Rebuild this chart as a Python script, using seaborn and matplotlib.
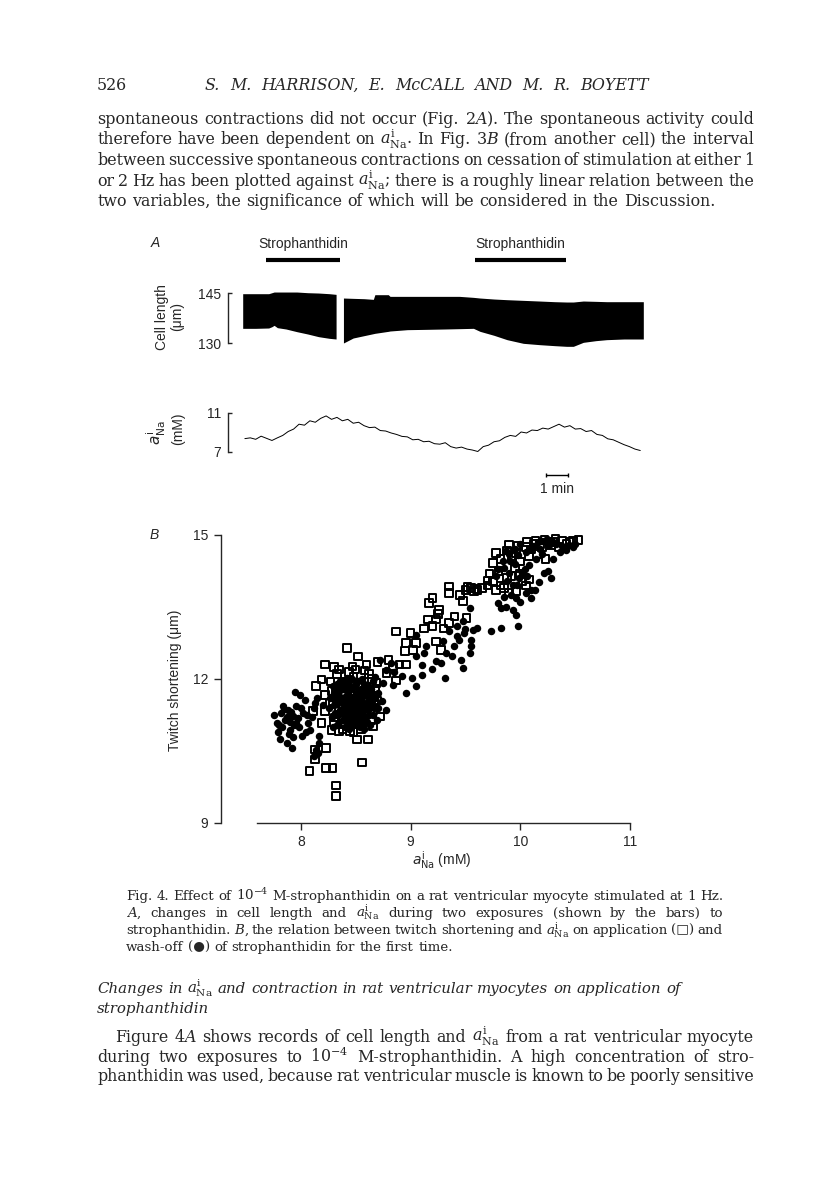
import numpy as np
import pandas as pd
import matplotlib
matplotlib.use("Agg")
import matplotlib.pyplot as plt
import seaborn as sns

# ---- DATA ----
# panel A, cell length band (time in min, um)
seg1_t = [0.0, 0.6, 1.2, 1.35, 1.45, 1.6, 2.0, 2.5, 3.0, 3.5, 4.0, 4.31]
seg1_top = [144.8, 144.8, 144.8, 145.1, 145.3, 145.3, 145.3, 145.3, 145.1, 145.0, 144.8, 144.6]
seg1_bot = [134.4, 134.4, 134.5, 134.9, 135.3, 134.6, 134.2, 133.4, 132.7, 131.9, 131.4, 131.2]

seg2_t = [4.65, 5.1, 5.6, 6.03, 6.1, 6.72, 6.8, 7.6, 8.5, 9.3, 10.0, 10.65, 10.95, 11.6, 12.2,
          12.95, 13.7, 14.4, 14.95, 15.26, 15.72, 16.3, 16.8, 17.6, 18.49]
seg2_top = [143.5, 143.4, 143.3, 143.1, 144.5, 144.5, 144.0, 144.0, 144.0, 144.0, 144.0, 143.7, 143.5,
            143.2, 143.0, 142.8, 142.6, 142.4, 142.3, 142.3, 142.6, 142.5, 142.4, 142.4, 142.4]
seg2_bot = [130.0, 131.5, 132.2, 132.8, 132.9, 133.5, 133.6, 134.0, 134.1, 134.2, 134.3, 134.4, 133.5,
            132.3, 131.0, 129.9, 129.5, 129.2, 129.0, 129.0, 130.2, 130.7, 131.0, 131.2, 131.2]

# panel A, intracellular Na activity (mM)
ana_t = [0.10, 0.35, 0.60, 0.85, 1.10, 1.35, 1.60, 1.85, 2.10, 2.35, 2.60, 2.85, 3.10, 3.35, 3.60,
         3.85, 4.10, 4.35, 4.60, 4.85, 5.10, 5.35, 5.60, 5.85, 6.10, 6.35, 6.60, 6.85, 7.10, 7.35,
         7.60, 7.85, 8.10, 8.35, 8.60, 8.85, 9.10, 9.35, 9.60, 9.85, 10.10, 10.35, 10.60, 10.85,
         11.10, 11.35, 11.60, 11.85, 12.10, 12.35, 12.60, 12.85, 13.10, 13.35, 13.60, 13.85, 14.10,
         14.35, 14.60, 14.85, 15.10, 15.35, 15.60, 15.85, 16.10, 16.35, 16.60, 16.85, 17.10, 17.35,
         17.60, 17.85, 18.10, 18.35]
ana_v = [8.37, 8.45, 8.30, 8.62, 8.40, 8.18, 8.45, 8.70, 9.10, 9.35, 9.85, 9.75, 10.20, 10.05, 10.45,
         10.70, 10.35, 10.55, 10.20, 10.35, 9.95, 10.05, 9.70, 9.50, 9.55, 9.20, 9.15, 8.95, 8.80, 8.60,
         8.55, 8.25, 8.30, 8.05, 8.10, 7.85, 7.80, 7.95, 7.55, 7.40, 7.50, 7.30, 7.20, 7.05,
         7.55, 7.70, 8.05, 8.15, 8.50, 8.70, 8.60, 9.05, 8.95, 9.25, 9.20, 9.45, 9.35,
         9.60, 9.85, 9.55, 9.70, 9.35, 9.40, 9.10, 9.20, 8.80, 8.70, 8.35, 8.25, 8.00,
         7.75, 7.55, 7.30, 7.15]

stroph_on = [1.08, 10.70]
stroph_off = [4.49, 14.90]

# panel B, application of strophanthidin (open squares)
app_x = [10.53, 10.45, 10.38, 10.32, 10.27, 10.22, 10.18, 10.12, 10.05, 9.98, 9.90, 10.23, 10.15, 10.08,
         9.78, 9.75, 9.72, 9.75, 9.82, 9.88, 9.95, 10.02, 10.08, 9.96, 10.05, 9.90, 9.85, 9.61, 9.50,
         9.52, 9.35, 9.35, 9.48, 9.51, 9.20, 9.17, 9.26, 9.23, 9.16, 9.35, 9.20, 9.30, 9.23, 9.28,
         8.87, 9.00, 8.96, 8.95, 9.02, 8.42, 8.52, 8.70, 8.22, 8.60, 8.47, 8.35, 8.30, 8.84, 8.96,
         8.78, 8.87, 8.19, 8.14, 8.22, 8.29, 8.11, 8.22, 8.19, 8.69, 8.67, 8.72, 8.66, 8.28, 8.35,
         8.45, 8.51, 8.61, 8.23, 8.13, 8.13, 8.08, 8.23, 8.29, 8.32, 8.32, 8.56,
         8.32, 8.40, 8.48, 8.55, 8.62, 8.58, 8.35, 8.42, 8.50, 8.60, 8.30, 8.38, 8.45, 8.52, 8.40,
         8.56, 8.63, 8.28, 9.60, 9.70, 9.80, 9.92, 10.00, 10.10, 10.28, 10.35,
         8.27, 8.33, 8.44, 8.50, 8.58, 8.65, 8.68, 8.70, 8.66, 8.64, 8.55, 8.48, 8.38, 8.31, 8.26,
         8.36, 8.46, 8.54, 8.42, 8.58,
         9.82, 9.88, 9.96, 10.06, 10.14, 10.20, 10.30, 10.42, 10.48, 9.70, 9.78, 9.92, 10.00,
         8.80, 8.90, 9.05, 9.12, 9.25, 9.40, 9.45, 9.55, 9.65, 9.58]
app_y = [14.90, 14.86, 14.88, 14.92, 14.85, 14.90, 14.80, 14.82, 14.75, 14.78, 14.80, 14.50, 14.60, 14.55,
         14.63, 14.42, 14.20, 14.03, 13.95, 14.10, 14.30, 14.03, 14.07, 13.83, 13.95, 13.80, 13.90, 13.86, 13.86,
         13.92, 13.93, 13.79, 13.62, 13.27, 13.69, 13.58, 13.44, 13.24, 13.24, 13.17, 13.10, 13.05, 12.78, 12.61,
         12.99, 12.96, 12.75, 12.58, 12.61, 12.65, 12.47, 12.35, 12.30, 12.30, 12.26, 12.20, 12.25, 12.26, 12.30,
         12.13, 11.97, 11.99, 11.85, 11.67, 11.53, 11.33, 11.33, 11.08, 11.92, 11.53, 11.22, 11.01, 10.94, 10.91,
         10.91, 10.74, 10.74, 10.56, 10.53, 10.32, 10.08, 10.15, 10.15, 9.78, 9.56, 10.26,
         11.80, 11.95, 12.05, 11.85, 12.10, 11.60, 11.40, 11.20, 11.45, 11.30, 11.10, 11.65, 11.75, 11.15, 11.05,
         11.05, 11.70, 11.75, 13.88, 13.95, 14.25, 14.55, 14.45, 14.70, 14.78, 14.75,
         11.95, 12.10, 12.15, 12.20, 12.18, 12.00, 11.80, 11.55, 11.35, 11.15, 10.95, 10.90, 10.95, 11.20, 11.50,
         11.85, 11.50, 11.30, 11.40, 11.75,
         14.50, 14.68, 14.62, 14.85, 14.88, 14.75, 14.85, 14.82, 14.88, 14.05, 13.85, 14.15, 14.20,
         12.40, 12.30, 12.75, 13.05, 13.35, 13.30, 13.75, 13.90, 13.90, 13.82]

# panel B, wash-off (filled circles)
wash_x = [7.76, 7.78, 7.81, 7.87, 7.92, 7.84, 7.88, 7.96, 7.95, 7.99, 8.04, 7.96, 7.90, 8.01, 8.07, 8.08,
          8.02, 7.87, 7.93, 7.83, 7.79, 8.17, 8.17, 8.14, 8.12, 8.13, 7.85, 7.90, 7.98, 8.05, 7.82, 7.93,
          8.10, 8.15, 8.20, 8.16, 8.12,
          8.28, 8.30, 8.32, 8.33, 8.35, 8.36, 8.37, 8.38, 8.40, 8.41, 8.42, 8.43, 8.44, 8.46, 8.47, 8.48,
          8.49, 8.50, 8.51, 8.52, 8.53, 8.55, 8.56, 8.57, 8.58, 8.60, 8.61, 8.62, 8.64, 8.66, 8.34, 8.39,
          8.45, 8.50, 8.54, 8.59, 8.63, 8.31, 8.37, 8.47, 8.26, 8.29, 8.44, 8.58, 8.68, 8.66, 8.70, 8.40,
          8.53, 8.46,
          8.27, 8.29, 8.31, 8.33, 8.35, 8.36, 8.38, 8.39, 8.41, 8.42, 8.43, 8.44, 8.45, 8.46, 8.47, 8.48,
          8.49, 8.50, 8.51, 8.52, 8.53, 8.54, 8.55, 8.56, 8.57, 8.58, 8.59, 8.60, 8.61, 8.62, 8.63, 8.65,
          8.67, 8.69, 8.33, 8.36, 8.40, 8.43, 8.49, 8.55, 8.60, 8.64, 8.38, 8.46, 8.52, 8.58, 8.30, 8.34,
          8.42, 8.56,
          8.78, 8.75, 8.82, 8.84, 8.96, 9.05, 9.10, 9.10, 9.05, 9.05, 9.14, 9.01, 8.92, 9.23, 9.31, 9.28,
          9.32, 9.38, 9.40, 9.44, 9.46, 9.48, 9.49, 9.54, 9.55, 9.55, 9.57, 9.61, 9.54, 9.73, 9.82, 9.98,
          9.96, 9.93, 9.87, 9.82, 9.80, 9.96, 10.10, 10.10, 10.13, 10.17, 10.22, 10.28, 10.25, 10.30, 10.36,
          10.42, 10.48, 10.02, 10.08, 9.85, 9.91, 9.87, 9.98, 10.10, 10.16, 10.24, 10.30, 9.99, 9.93, 9.90,
          8.72, 8.78, 8.85, 8.70, 8.74, 8.68, 9.35, 9.42, 9.30, 9.12, 9.20, 9.48, 9.42, 9.50,
          9.95, 10.00, 10.05, 10.12, 10.18, 10.20, 10.26, 10.33, 10.38, 10.44, 10.50, 10.14, 10.20, 9.90,
          9.84, 9.80, 9.95, 10.04, 9.88, 9.97, 10.06, 9.78, 9.92, 10.00, 9.85, 10.05,
          7.86, 7.91, 7.97, 7.80, 7.89, 7.94, 8.00, 8.06, 8.41, 8.48, 8.54, 8.35, 8.44, 8.51, 8.57, 8.39]
wash_y = [11.26, 11.08, 10.74, 10.67, 10.56, 11.43, 11.36, 11.43, 11.72, 11.67, 11.57, 11.08, 10.94, 10.81,
          11.08, 10.94, 11.29, 11.20, 11.22, 11.00, 10.90, 10.81, 10.67, 10.53, 11.40, 11.50, 11.38, 11.10,
          11.00, 10.90, 11.30, 10.80, 11.20, 11.60, 11.45, 10.45, 10.40,
          11.20, 11.45, 11.65, 11.90, 11.10, 11.35, 11.55, 11.80, 11.00, 11.25, 11.50, 11.70, 11.95, 11.15,
          11.40, 11.60, 11.85, 11.05, 11.30, 11.55, 11.75, 11.20, 11.45, 11.65, 11.90, 11.10, 11.35, 11.55,
          11.80, 11.25, 11.25, 11.45, 11.30, 11.70, 11.00, 11.75, 11.45, 11.55, 11.95, 12.00, 11.40, 11.00,
          10.95, 10.95, 11.60, 11.95, 11.40, 11.60, 11.40, 11.55,
          11.60, 11.85, 11.30, 11.05, 11.75, 11.95, 11.15, 11.35, 11.65, 11.85, 11.10, 11.45, 11.60, 11.80,
          11.20, 11.35, 11.50, 11.90, 11.15, 11.65, 11.25, 11.55, 11.80, 11.30, 11.10, 11.50, 11.20, 11.65,
          11.85, 11.25, 11.05, 11.55, 11.40, 11.15, 11.48, 11.62, 11.80, 11.38, 11.25, 11.62, 11.45, 11.68,
          11.28, 11.05, 11.95, 11.35, 11.70, 11.85, 12.02, 12.00,
          11.36, 11.92, 12.33, 11.88, 11.71, 11.85, 12.09, 12.30, 12.47, 12.92, 12.68, 12.02, 12.06, 12.37,
          12.02, 12.33, 12.54, 12.47, 12.68, 12.82, 12.40, 12.23, 12.96, 12.54, 12.68, 12.82, 13.03, 13.06,
          13.48, 12.99, 13.06, 13.11, 13.34, 13.44, 13.50, 13.48, 13.58, 13.69, 13.69, 13.86, 13.86, 14.03,
          14.21, 14.10, 14.25, 14.50, 14.64, 14.68, 14.75, 14.21, 14.38, 14.31, 14.45, 14.66, 14.59, 14.73,
          14.86, 14.92, 14.86, 14.10, 13.95, 14.20,
          12.40, 12.18, 12.15, 11.70, 11.55, 12.05, 13.00, 13.10, 12.80, 12.55, 12.20, 13.20, 12.90, 13.05,
          14.70, 14.82, 14.65, 14.78, 14.70, 14.88, 14.80, 14.82, 14.78, 14.80, 14.82, 14.50, 14.60, 14.60,
          14.45, 14.30, 14.40, 14.30, 14.05, 13.95, 14.15, 14.15, 13.75, 13.60, 13.70, 13.80,
          11.15, 11.32, 11.18, 11.05, 10.85, 11.05, 11.40, 11.25, 11.15, 11.42, 11.72, 11.58, 11.88, 11.08,
          11.38, 11.92]

# ---- PAGE SET-UP ----
W, H = 816, 1177
sns.set_style("ticks")
plt.rcParams["font.family"] = ["Liberation Sans", "DejaVu Sans"]
plt.rcParams["axes.linewidth"] = 1.0
SERIF = ["DejaVu Serif", "DejaVu Sans"]

fig = plt.figure(figsize=(W / 100, H / 100), dpi=100)
fig.patch.set_facecolor("white")
renderer = fig.canvas.get_renderer()


def px_axes(x0, y0, x1, y1):
    return fig.add_axes([x0 / W, 1 - y1 / H, (x1 - x0) / W, (y1 - y0) / H])


def txt(x, y, s, **kw):
    return fig.text(x / W, 1 - y / H, s, **kw)


def serif_kw(size, style):
    return dict(size=size, family=SERIF, style=style, math_fontfamily="dejavuserif")


def fit_size(lines, spans, style="normal", base=10.0):
    # font size at which the justified lines fill their width with plain spacing
    ratios = []
    for s, (x0, x1) in zip(lines, spans):
        t = txt(0, 0, s, **serif_kw(base, style))
        ratios.append((x1 - x0) / t.get_window_extent(renderer).width)
        t.remove()
    return base * float(np.median(ratios))


def text_line(s, y, x0, x1=None, size=10.0, style="normal"):
    words = s.split(" ")
    objs = [txt(0, y, w, va="baseline", ha="left", **serif_kw(size, style)) for w in words]
    widths = [o.get_window_extent(renderer).width for o in objs]
    if x1 is None or len(words) == 1:
        gap = 0.32 * size * 100 / 72
    else:
        gap = (x1 - x0 - sum(widths)) / (len(words) - 1)
    x = x0
    for o, w in zip(objs, widths):
        o.set_x(x / W)
        x += w + gap


ANA = r"$a^{\mathrm{i}}_{\mathrm{Na}}$"

# ---- RUNNING TEXT ----
body1 = ["spontaneous contractions did not occur (Fig. 2$A$). The spontaneous activity could",
         "therefore have been dependent on " + ANA + ". In Fig. 3$B$ (from another cell) the interval",
         "between successive spontaneous contractions on cessation of stimulation at either 1",
         "or 2 Hz has been plotted against " + ANA + "; there is a roughly linear relation between the",
         "two variables, the significance of which will be considered in the Discussion."]
body2 = ["Figure 4$A$ shows records of cell length and " + ANA + " from a rat ventricular myocyte",
         "during two exposures to 10$^{-4}$ M-strophanthidin. A high concentration of stro-",
         "phanthidin was used, because rat ventricular muscle is known to be poorly sensitive"]
caption = ["Fig. 4. Effect of 10$^{-4}$ M-strophanthidin on a rat ventricular myocyte stimulated at 1 Hz.",
           "$A$, changes in cell length and " + ANA + " during two exposures (shown by the bars) to",
           "strophanthidin. $B$, the relation between twitch shortening and " + ANA + " on application (\u25a1) and",
           "wash-off (\u25cf) of strophanthidin for the first time."]
heading = ["Changes in " + ANA + " and contraction in rat ventricular myocytes on application of",
           "strophanthidin"]

body_size = fit_size(body1[:4] + body2, [(97, 754)] * 4 + [(115, 754), (97, 754), (97, 754)])
cap_size = fit_size(caption[:3], [(126, 723)] * 3)
head_size = fit_size(heading[:1], [(97, 683)], style="italic")

txt(97, 90, "526", va="baseline", **serif_kw(body_size, "normal"))
text_line("S. M. HARRISON, E. McCALL AND M. R. BOYETT", 90, 205, 649, size=body_size, style="italic")

for i, line in enumerate(body1):
    text_line(line, 124 + 20.5 * i, 97, 754 if i < 4 else None, size=body_size)

for i, line in enumerate(caption):
    text_line(line, 900 + 17 * i, 126, 723 if i < 3 else None, size=cap_size)

text_line(heading[0], 993, 97, None, size=head_size, style="italic")
text_line(heading[1], 1013, 97, None, size=head_size, style="italic")

text_line(body2[0], 1042, 115, 754, size=body_size)
text_line(body2[1], 1062, 97, 754, size=body_size)
text_line(body2[2], 1081, 97, 754, size=body_size)

# ---- PANEL A ----
axL = px_axes(242.7, 289.7, 645.7, 348)
axL.fill_between(seg1_t, seg1_bot, seg1_top, color="black", lw=0)
axL.fill_between(seg2_t, seg2_bot, seg2_top, color="black", lw=0)
axL.set_xlim(0, 18.6)
axL.set_ylim(128.5, 146)

axN = px_axes(242.7, 411.05, 645.7, 454.9)
sns.lineplot(x=ana_t, y=ana_v, ax=axN, color="black", lw=0.7)
axN.set_xlim(0, 18.6)
axN.set_ylim(6.7, 11.2)

for ax, ticks in [(axL, [130, 145]), (axN, [7, 11])]:
    for side in ["top", "right", "bottom"]:
        ax.spines[side].set_visible(False)
    ax.spines["left"].set_position(("outward", 10.6))
    ax.spines["left"].set_bounds(ticks[0], ticks[1])
    ax.set_yticks(ticks)
    ax.set_xticks([])
    ax.tick_params(axis="y", direction="in", length=3, width=1, pad=5, labelsize=10)
    ax.patch.set_alpha(0)

# exposure bars
for on, off in zip(stroph_on, stroph_off):
    axL.hlines(154.9, on, off, color="black", lw=3, clip_on=False)
    axL.text((on + off) / 2, 159.7, "Strophanthidin", ha="center", va="center", size=10, clip_on=False)

# 1 min scale bar
axN.hlines(4.64, 14.0, 15.0, color="black", lw=1, clip_on=False)
axN.vlines([14.0, 15.0], 4.39, 4.89, color="black", lw=1, clip_on=False)
axN.text(14.5, 3.2, "1 min", ha="center", va="center", size=10, clip_on=False)

txt(155, 243, "A", size=10, style="italic", ha="center", va="center")
txt(162, 317, "Cell length", size=10, rotation=90, ha="center", va="center")
txt(177.5, 316, "(\u03bcm)", size=10, rotation=90, ha="center", va="center")
txt(156, 433, ANA, size=11, rotation=90, ha="center", va="center", math_fontfamily="dejavusans")
txt(178, 429, "(mM)", size=10, rotation=90, ha="center", va="center")

# ---- PANEL B ----
axB = px_axes(221, 535, 630, 823)
sns.scatterplot(x=app_x, y=app_y, ax=axB, marker="s", s=30, color="black",
                facecolor="none", edgecolor="black", linewidth=1.4, clip_on=False, legend=False)
sns.scatterplot(x=wash_x, y=wash_y, ax=axB, marker="o", s=29, color="black",
                edgecolor="black", linewidth=0, clip_on=False, legend=False)
axB.set_xlim(8 - 80 / 110, 11)
axB.set_ylim(9, 15)
axB.spines["top"].set_visible(False)
axB.spines["right"].set_visible(False)
axB.spines["left"].set_bounds(9, 15)
axB.spines["bottom"].set_bounds(7.6, 11)
axB.set_xticks([8, 9, 10, 11])
axB.set_yticks([9, 12, 15])
axB.tick_params(direction="out", length=5, width=1, pad=4, labelsize=10)
axB.set_xlabel("")
axB.set_ylabel("")
axB.patch.set_alpha(0)

txt(154, 535, "B", size=10, style="italic", ha="center", va="center")
txt(175, 680, "Twitch shortening (\u03bcm)", size=10, rotation=90, ha="center", va="center")
txt(442, 860, ANA + " (mM)", size=10, ha="center", va="center", math_fontfamily="dejavusans")

fig.savefig("out.png", dpi=100, facecolor="white")
